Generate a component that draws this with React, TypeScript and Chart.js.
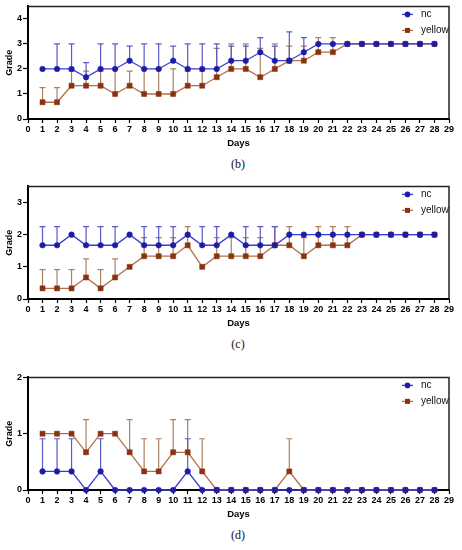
import React, { useEffect, useRef } from "react";
import { Chart, registerables } from "chart.js";

Chart.register(...registerables);

const days = [1, 2, 3, 4, 5, 6, 7, 8, 9, 10, 11, 12, 13, 14, 15, 16, 17, 18, 19, 20, 21, 22, 23, 24, 25, 26, 27, 28];
const seriesNames = ["nc", "yellow"];

// Panel (b)
const ncB = [2, 2, 2, 1.67, 2, 2, 2.33, 2, 2, 2.33, 2, 2, 2, 2.33, 2.33, 2.67, 2.33, 2.33, 2.67, 3, 3, 3, 3, 3, 3, 3, 3, 3];
const ncBErr = [0, 1, 1, 0.58, 1, 1, 0.58, 1, 1, 0.58, 1, 1, 1, 0.58, 0.58, 0.58, 0.58, 1.15, 0.58, 0, 0, 0, 0, 0, 0, 0, 0, 0];
const yellowB = [0.67, 0.67, 1.33, 1.33, 1.33, 1, 1.33, 1, 1, 1, 1.33, 1.33, 1.67, 2, 2, 1.67, 2, 2.33, 2.33, 2.67, 2.67, 3, 3, 3, 3, 3, 3, 3];
const yellowBErr = [0.58, 0.58, 0.58, 0.58, 0.58, 1, 0.58, 1, 1, 1, 0.58, 0.58, 1.15, 1, 1, 1.15, 1, 0.58, 0.58, 0.58, 0.58, 0, 0, 0, 0, 0, 0, 0];

// Panel (c)
const ncC = [1.67, 1.67, 2, 1.67, 1.67, 1.67, 2, 1.67, 1.67, 1.67, 2, 1.67, 1.67, 2, 1.67, 1.67, 1.67, 2, 2, 2, 2, 2, 2, 2, 2, 2, 2, 2];
const ncCErr = [0.58, 0.58, 0, 0.58, 0.58, 0.58, 0, 0.58, 0.58, 0.58, 0, 0.58, 0.58, 0, 0.58, 0.58, 0.58, 0, 0, 0, 0, 0, 0, 0, 0, 0, 0, 0];
const yellowC = [0.33, 0.33, 0.33, 0.67, 0.33, 0.67, 1, 1.33, 1.33, 1.33, 1.67, 1, 1.33, 1.33, 1.33, 1.33, 1.67, 1.67, 1.33, 1.67, 1.67, 1.67, 2, 2, 2, 2, 2, 2];
const yellowCErr = [0.58, 0.58, 0.58, 0.58, 0.58, 0.58, 0, 0.58, 0.58, 0.58, 0.58, 0, 0.58, 0.58, 0.58, 0.58, 0.58, 0.58, 0.58, 0.58, 0.58, 0.58, 0, 0, 0, 0, 0, 0];

// Panel (d)
const ncD = [0.33, 0.33, 0.33, 0, 0.33, 0, 0, 0, 0, 0, 0.33, 0, 0, 0, 0, 0, 0, 0, 0, 0, 0, 0, 0, 0, 0, 0, 0, 0];
const ncDErr = [0.58, 0.58, 0.58, 0, 0.58, 0, 0, 0, 0, 0, 0.58, 0, 0, 0, 0, 0, 0, 0, 0, 0, 0, 0, 0, 0, 0, 0, 0, 0];
const yellowD = [1, 1, 1, 0.67, 1, 1, 0.67, 0.33, 0.33, 0.67, 0.67, 0.33, 0, 0, 0, 0, 0, 0.33, 0, 0, 0, 0, 0, 0, 0, 0, 0, 0];
const yellowDErr = [0, 0, 0, 0.58, 0, 0, 0.58, 0.58, 0.58, 0.58, 0.58, 0.58, 0, 0, 0, 0, 0, 0.58, 0, 0, 0, 0, 0, 0, 0, 0, 0, 0];

const yTicksB = [0, 1, 2, 3, 4];
const yTicksC = [0, 1, 2, 3];
const yTicksD = [0, 1, 2];

const FONT = "'Liberation Sans', Arial, sans-serif";
const NC_LINE = "#3c3cd0";
const NC_POINT = "#1c1ca8";
const NC_ERR = "#5a5ac8";
const YE_LINE = "#b0714a";
const YE_POINT = "#8a3210";
const YE_ERR = "#ad8060";

const W = 462;
const H = 150;

const errorBarPlugin = {
  id: "errorBars",
  beforeDatasetsDraw(chart: any) {
    const ctx = chart.ctx;
    const yScale = chart.scales.y;
    for (let i = chart.data.datasets.length - 1; i >= 0; i--) {
      const ds: any = chart.data.datasets[i];
      const meta = chart.getDatasetMeta(i);
      ctx.save();
      ctx.strokeStyle = ds.errColor;
      ctx.lineWidth = 1.2;
      meta.data.forEach((pt: any, j: number) => {
        const e = ds.err[j];
        if (!e) return;
        const v = ds.data[j].y;
        const yTop = yScale.getPixelForValue(v + e);
        ctx.beginPath();
        ctx.moveTo(pt.x, pt.y);
        ctx.lineTo(pt.x, yTop);
        ctx.moveTo(pt.x - 3, yTop);
        ctx.lineTo(pt.x + 3, yTop);
        ctx.stroke();
      });
      ctx.restore();
    }
  },
};

const framePlugin = {
  id: "frame",
  afterDraw(chart: any) {
    const { ctx, chartArea } = chart;
    ctx.save();
    ctx.strokeStyle = "#222";
    ctx.lineWidth = 1.5;
    ctx.beginPath();
    ctx.moveTo(chartArea.left, chartArea.top);
    ctx.lineTo(chartArea.right, chartArea.top);
    ctx.lineTo(chartArea.right, chartArea.bottom);
    ctx.stroke();
    ctx.restore();
  },
};

const legendPlugin = {
  id: "insideLegend",
  afterDraw(chart: any) {
    const { ctx, chartArea } = chart;
    chart.data.datasets.forEach((ds: any, i: number) => {
      const y = chartArea.top + 8 + i * 16;
      const x0 = chartArea.right - 47;
      const x1 = chartArea.right - 36;
      ctx.save();
      ctx.strokeStyle = ds.borderColor;
      ctx.lineWidth = 1.3;
      ctx.beginPath();
      ctx.moveTo(x0, y);
      ctx.lineTo(x1, y);
      ctx.stroke();
      ctx.fillStyle = ds.pointBackgroundColor;
      if (ds.pointStyle === "rect") {
        ctx.fillRect((x0 + x1) / 2 - 2.5, y - 2.5, 5, 5);
      } else {
        ctx.beginPath();
        ctx.arc((x0 + x1) / 2, y, 2.8, 0, Math.PI * 2);
        ctx.fill();
      }
      ctx.fillStyle = "#111";
      ctx.font = `10px ${FONT}`;
      ctx.textBaseline = "middle";
      ctx.textAlign = "left";
      ctx.fillText(ds.label, chartArea.right - 28, y);
      ctx.restore();
    });
  },
};

type PanelProps = {
  top: number;
  nc: number[];
  ncErr: number[];
  yellow: number[];
  yellowErr: number[];
  yTicks: number[];
  yMax: number;
  caption: string;
};

function Panel({ top, nc, ncErr, yellow, yellowErr, yTicks, yMax, caption }: PanelProps) {
  const ref = useRef<HTMLCanvasElement>(null);
  useEffect(() => {
    if (!ref.current) return;
    const tickFont = { family: FONT, size: 9, weight: "bold" as const };
    const chart = new Chart(ref.current, {
      type: "line",
      data: {
        datasets: [
          {
            label: seriesNames[0],
            data: days.map((d, i) => ({ x: d, y: nc[i] })),
            err: ncErr,
            errColor: NC_ERR,
            borderColor: NC_LINE,
            backgroundColor: NC_POINT,
            pointBackgroundColor: NC_POINT,
            pointBorderColor: NC_POINT,
            pointStyle: "circle",
            pointRadius: 2.8,
            pointBorderWidth: 0.5,
            borderWidth: 1.3,
            tension: 0,
            clip: false,
          } as any,
          {
            label: seriesNames[1],
            data: days.map((d, i) => ({ x: d, y: yellow[i] })),
            err: yellowErr,
            errColor: YE_ERR,
            borderColor: YE_LINE,
            backgroundColor: YE_POINT,
            pointBackgroundColor: YE_POINT,
            pointBorderColor: YE_POINT,
            pointStyle: "rect",
            pointRadius: 3.6,
            pointBorderWidth: 0.5,
            borderWidth: 1.3,
            tension: 0,
            clip: false,
          } as any,
        ],
      },
      options: {
        animation: false,
        responsive: false,
        events: [],
        layout: { padding: { top: 5, right: 13, left: 0, bottom: 0 } },
        plugins: { legend: { display: false }, tooltip: { enabled: false } },
        scales: {
          x: {
            type: "linear",
            min: 0,
            max: 29,
            ticks: {
              stepSize: 1,
              autoSkip: false,
              maxRotation: 0,
              includeBounds: false,
              padding: 1,
              color: "#000",
              font: tickFont,
            },
            grid: { drawOnChartArea: false, tickLength: 4, color: "#000", tickWidth: 1.2 },
            border: { color: "#000", width: 2 },
            title: {
              display: true,
              text: "Days",
              color: "#000",
              font: { family: FONT, size: 9.5, weight: "bold" },
              padding: { top: 0, bottom: 1 },
            },
            afterFit: (s: any) => {
              s.height = 31;
            },
          },
          y: {
            type: "linear",
            min: 0,
            max: yMax,
            afterBuildTicks: (s: any) => {
              s.ticks = yTicks.map((v) => ({ value: v }));
            },
            ticks: { stepSize: 1, includeBounds: false, padding: 1, color: "#000", font: tickFont },
            grid: { drawOnChartArea: false, tickLength: 5, color: "#000", tickWidth: 1.2 },
            border: { color: "#000", width: 2 },
            title: {
              display: true,
              text: "Grade",
              color: "#000",
              font: { family: FONT, size: 9, weight: "bold" },
              padding: { top: 4.6, bottom: 0 },
            },
            afterFit: (s: any) => {
              s.width = 28;
            },
          },
        },
      } as any,
      plugins: [errorBarPlugin, framePlugin, legendPlugin],
    });
    return () => chart.destroy();
  }, []);
  return (
    <>
      <canvas
        ref={ref}
        width={W}
        height={H}
        style={{ position: "absolute", left: 0, top, width: W, height: H }}
      />
      <div
        style={{
          position: "absolute",
          left: 238,
          top: top + 156,
          transform: "translateX(-50%)",
          fontFamily: "'Liberation Serif', 'DejaVu Serif', serif",
          fontSize: 12,
          lineHeight: "16px",
          color: "#111",
          whiteSpace: "nowrap",
        }}
      >
        {caption}
      </div>
    </>
  );
}

export default function App() {
  return (
    <div
      style={{
        position: "fixed",
        left: 0,
        top: 0,
        width: W,
        height: 550,
        background: "#fff",
        overflow: "hidden",
      }}
    >
      <Panel top={0} nc={ncB} ncErr={ncBErr} yellow={yellowB} yellowErr={yellowBErr} yTicks={yTicksB} yMax={4.5} caption="(b)" />
      <Panel top={180} nc={ncC} ncErr={ncCErr} yellow={yellowC} yellowErr={yellowCErr} yTicks={yTicksC} yMax={3.5} caption="(c)" />
      <Panel top={371} nc={ncD} ncErr={ncDErr} yellow={yellowD} yellowErr={yellowDErr} yTicks={yTicksD} yMax={2} caption="(d)" />
    </div>
  );
}
